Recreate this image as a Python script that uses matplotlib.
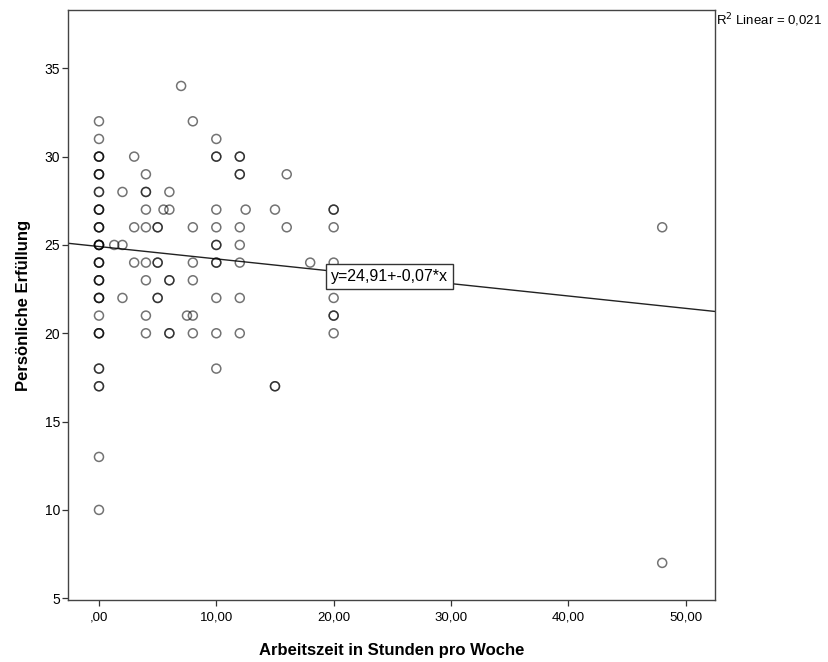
import matplotlib
matplotlib.use("Agg")
import matplotlib.pyplot as plt
import numpy as np

plt.rcParams["font.family"] = ["Liberation Sans", "DejaVu Sans"]

# Arbeitszeit (x), Erfüllung (y) und wie oft der Punkt vorkommt (Überlagerung)
hours = [0, 0, 0, 0, 0, 0, 0, 0, 0, 0, 0, 0, 0, 0, 0, 0, 0,
         1.3, 2, 2, 2, 3, 3, 3,
         4, 4, 4, 4, 4, 4, 4, 4,
         5, 5, 5, 5.5, 6, 6, 6, 6, 7, 7.5,
         8, 8, 8, 8, 8, 8,
         10, 10, 10, 10, 10, 10, 10, 10, 10,
         12, 12, 12, 12, 12, 12, 12, 12.5,
         15, 15, 16, 16, 18,
         20, 20, 20, 20, 20, 20,
         48, 48]
fulfil = [32, 31, 30, 29, 28, 27, 26, 25, 24, 23, 22, 21, 20, 18, 17, 13, 10,
          25, 28, 25, 22, 30, 26, 24,
          29, 28, 27, 26, 24, 23, 21, 20,
          26, 24, 22, 27, 28, 27, 23, 20, 34, 21,
          32, 26, 24, 23, 21, 20,
          31, 30, 27, 26, 25, 24, 22, 20, 18,
          30, 29, 26, 25, 24, 22, 20, 27,
          27, 17, 29, 26, 24,
          27, 26, 24, 22, 21, 20,
          26, 7]
counts = [1, 1, 3, 3, 2, 3, 3, 4, 3, 3, 3, 1, 3, 2, 2, 1, 1,
          1, 1, 1, 1, 1, 1, 1,
          1, 2, 1, 1, 1, 1, 1, 1,
          2, 2, 2, 1, 1, 1, 2, 2, 1, 1,
          1, 1, 1, 1, 1, 1,
          1, 2, 1, 1, 2, 2, 1, 1, 1,
          2, 2, 1, 1, 1, 1, 1, 1,
          1, 2, 1, 1, 1,
          2, 1, 1, 1, 2, 1,
          1, 1]

intercept = 24.91
slope = -0.07
r2 = 0.021

x_ticks = [0, 10, 20, 30, 40, 50]
x_labels = [",00", "10,00", "20,00", "30,00", "40,00", "50,00"]
y_ticks = [5, 10, 15, 20, 25, 30, 35]

xs = np.repeat(hours, counts)
ys = np.repeat(fulfil, counts)

fig = plt.figure(figsize=(8.29, 6.62), dpi=100)
ax = fig.add_axes([68 / 829, 62 / 662, 647 / 829, 590 / 662])

ax.scatter(xs, ys, s=42, facecolors="none", edgecolors=(0, 0, 0, 0.55),
           linewidths=1.1, zorder=3)

xlim = (-2.64, 52.5)
ax.set_xlim(xlim)
ax.set_ylim(4.9, 38.3)
line_x = np.array(xlim)
ax.plot(line_x, intercept + slope * line_x, color="#222222", lw=1.0, zorder=2)

# Gleichung der Regressionsgeraden im Kasten
ax.text(19.75, 23.22, "y=24,91+-0,07*x", fontsize=11.5, ha="left", va="center",
        zorder=4,
        bbox=dict(boxstyle="square,pad=0.3", fc="white", ec="#333333", lw=1.0))

ax.set_xticks(x_ticks)
ax.set_xticklabels(x_labels)
ax.set_yticks(y_ticks)
ax.tick_params(labelsize=9.5, length=4.5, width=0.9, color="#333333",
               direction="out", pad=4)
ax.tick_params(axis="y", labelsize=10, pad=1)

for s in ax.spines.values():
    s.set_color("#444444")
    s.set_linewidth(1.0)

ax.set_xlabel("Arbeitszeit in Stunden pro Woche", fontsize=12, fontweight="bold",
              labelpad=14)
ax.set_ylabel("Persönliche Erfüllung", fontsize=12, fontweight="bold", labelpad=10)

fig.text(716 / 829, 1 - 20 / 662, "R$^2$ Linear = " + f"{r2:.3f}".replace(".", ","),
         fontsize=9.5, ha="left", va="center")

fig.savefig("out.png", dpi=100, facecolor="white")
